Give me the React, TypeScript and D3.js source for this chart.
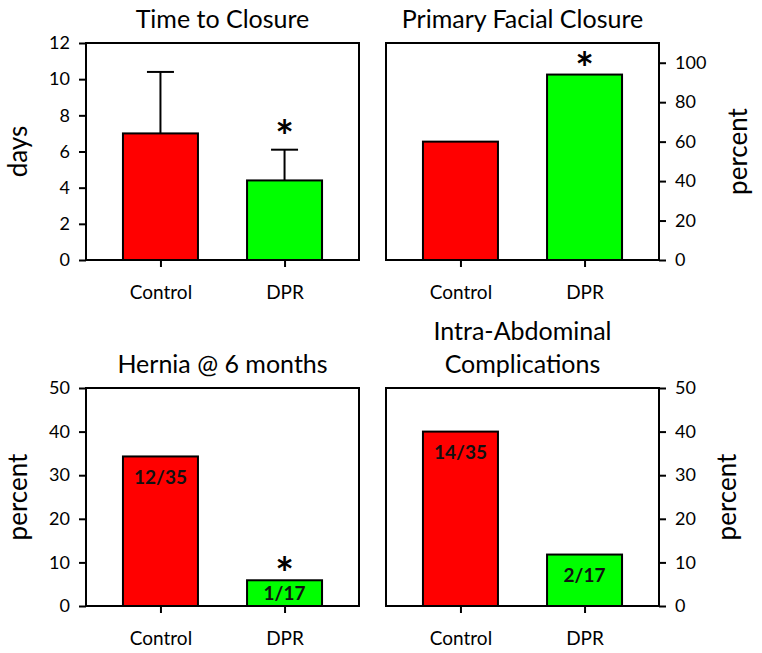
import React, { useEffect, useRef } from 'react';
import * as d3 from 'd3';

// categories + values
const categories = ['Control', 'DPR'];

const closureDays = [7.0, 4.4];
const closureErrTop = [10.4, 6.1];
const closureSig = [false, true];
const closureTicks = [0, 2, 4, 6, 8, 10, 12];

const facialPct = [60, 94];
const facialSig = [false, true];
const facialTicks = [0, 20, 40, 60, 80, 100];

const herniaPct = [34.3, 5.9];
const herniaCounts = ['12/35', '1/17'];
const herniaSig = [false, true];
const herniaTicks = [0, 10, 20, 30, 40, 50];

const complicPct = [40, 11.8];
const complicCounts = ['14/35', '2/17'];
const complicSig = [false, false];
const complicTicks = [0, 10, 20, 30, 40, 50];

const barColours = ['#ff0000', '#00ff00'];
const FONT = 'Lato, "Open Sans", sans-serif';

const BOX_W = 273;
const BAR_W = 75;
const STAR_SIZE = 44;

const panels = [
  { title: ['Time to Closure'], values: closureDays, errTop: closureErrTop, counts: null, sig: closureSig,
    ticks: closureTicks, yMax: 12, yLabel: 'days', side: 'left', x0: 86, y0: 43, y1: 260, labelX: 27 },
  { title: ['Primary Facial Closure'], values: facialPct, errTop: null, counts: null, sig: facialSig,
    ticks: facialTicks, yMax: 110, yLabel: 'percent', side: 'right', x0: 386, y0: 43, y1: 260, labelX: 747 },
  { title: ['Hernia @ 6 months'], values: herniaPct, errTop: null, counts: herniaCounts, sig: herniaSig,
    ticks: herniaTicks, yMax: 50, yLabel: 'percent', side: 'left', x0: 86, y0: 388, y1: 606, labelX: 27 },
  { title: ['Intra-Abdominal', 'Complications'], values: complicPct, errTop: null, counts: complicCounts, sig: complicSig,
    ticks: complicTicks, yMax: 50, yLabel: 'percent', side: 'right', x0: 386, y0: 388, y1: 606, labelX: 736 },
];

function drawPanel(svg: any, p: any) {
  const g = svg.append('g');
  const x = d3.scalePoint().domain(categories).range([p.x0, p.x0 + BOX_W]).padding(0.6);
  const y = d3.scaleLinear().domain([0, p.yMax]).range([p.y1, p.y0]);
  const cx = (i: number) => x(categories[i]) as number;

  // bars
  g.selectAll('rect.bar')
    .data(p.values)
    .join('rect')
    .attr('class', 'bar')
    .attr('x', (d: number, i: number) => cx(i) - BAR_W / 2)
    .attr('y', (d: number) => y(d))
    .attr('width', BAR_W)
    .attr('height', (d: number) => y(0) - y(d))
    .attr('fill', (d: number, i: number) => barColours[i])
    .attr('stroke', '#000')
    .attr('stroke-width', 2);

  // upper error bars
  if (p.errTop) {
    p.errTop.forEach((e: number, i: number) => {
      g.append('line').attr('x1', cx(i)).attr('x2', cx(i)).attr('y1', y(p.values[i])).attr('y2', y(e))
        .attr('stroke', '#000').attr('stroke-width', 2);
      g.append('line').attr('x1', cx(i) - 13.5).attr('x2', cx(i) + 13.5).attr('y1', y(e)).attr('y2', y(e))
        .attr('stroke', '#000').attr('stroke-width', 2);
    });
  }

  // n/N labels inside bars
  if (p.counts) {
    p.counts.forEach((c: string, i: number) => {
      const top = y(p.values[i]);
      const mid = Math.min(top + 21, (top + y(0)) / 2);
      g.append('text').attr('x', cx(i)).attr('y', mid + 6.5)
        .attr('text-anchor', 'middle').attr('font-family', FONT).attr('font-weight', 'bold')
        .attr('font-size', 19).attr('fill', '#111').text(c);
    });
  }

  // significance stars
  p.sig.forEach((s: boolean, i: number) => {
    if (!s) return;
    const centre = p.errTop ? y(p.errTop[i]) - 22 : y(p.values[i]) - 15;
    g.append('text').attr('x', cx(i)).attr('y', centre + STAR_SIZE * 0.55)
      .attr('text-anchor', 'middle').attr('font-family', FONT).attr('font-weight', 'bold')
      .attr('font-size', STAR_SIZE).attr('fill', '#000').text('*');
  });

  // frame
  g.append('rect').attr('x', p.x0).attr('y', p.y0).attr('width', BOX_W).attr('height', p.y1 - p.y0)
    .attr('fill', 'none').attr('stroke', '#000').attr('stroke-width', 2);

  // y axis
  const left = p.side === 'left';
  const yAxis = (left ? d3.axisLeft(y) : d3.axisRight(y))
    .tickValues(p.ticks).tickSize(7).tickPadding(9);
  const ya = g.append('g').attr('transform', `translate(${left ? p.x0 : p.x0 + BOX_W},0)`).call(yAxis);
  ya.select('.domain').remove();
  ya.selectAll('line').attr('stroke', '#000').attr('stroke-width', 2);
  ya.selectAll('text').attr('font-family', FONT).attr('font-size', 18).attr('fill', '#000');

  // x axis
  const xa = g.append('g').attr('transform', `translate(0,${p.y1})`)
    .call(d3.axisBottom(x).tickSize(7).tickPadding(19));
  xa.select('.domain').remove();
  xa.selectAll('line').attr('stroke', '#000').attr('stroke-width', 2);
  xa.selectAll('text').attr('font-family', FONT).attr('font-size', 19).attr('fill', '#000');

  // title
  const n = p.title.length;
  p.title.forEach((t: string, i: number) => {
    g.append('text').attr('x', p.x0 + BOX_W / 2).attr('y', p.y0 - 15 - (n - 1 - i) * 33)
      .attr('text-anchor', 'middle').attr('font-family', FONT).attr('font-size', 25)
      .attr('fill', '#000').text(t);
  });

  // axis label
  g.append('text')
    .attr('transform', `translate(${p.labelX},${(p.y0 + p.y1) / 2}) rotate(-90)`)
    .attr('text-anchor', 'middle').attr('font-family', FONT).attr('font-size', 26)
    .attr('fill', '#000').text(p.yLabel);
}

const App = () => {
  const ref = useRef(null);

  useEffect(() => {
    const svg = d3.select(ref.current);
    svg.selectAll('*').remove();
    panels.forEach(p => drawPanel(svg, p));
  }, []);

  return (
    <svg ref={ref} width={762} height={653}
      style={{ position: 'absolute', left: 0, top: 0, background: '#fff' }} />
  );
};

export default App;
